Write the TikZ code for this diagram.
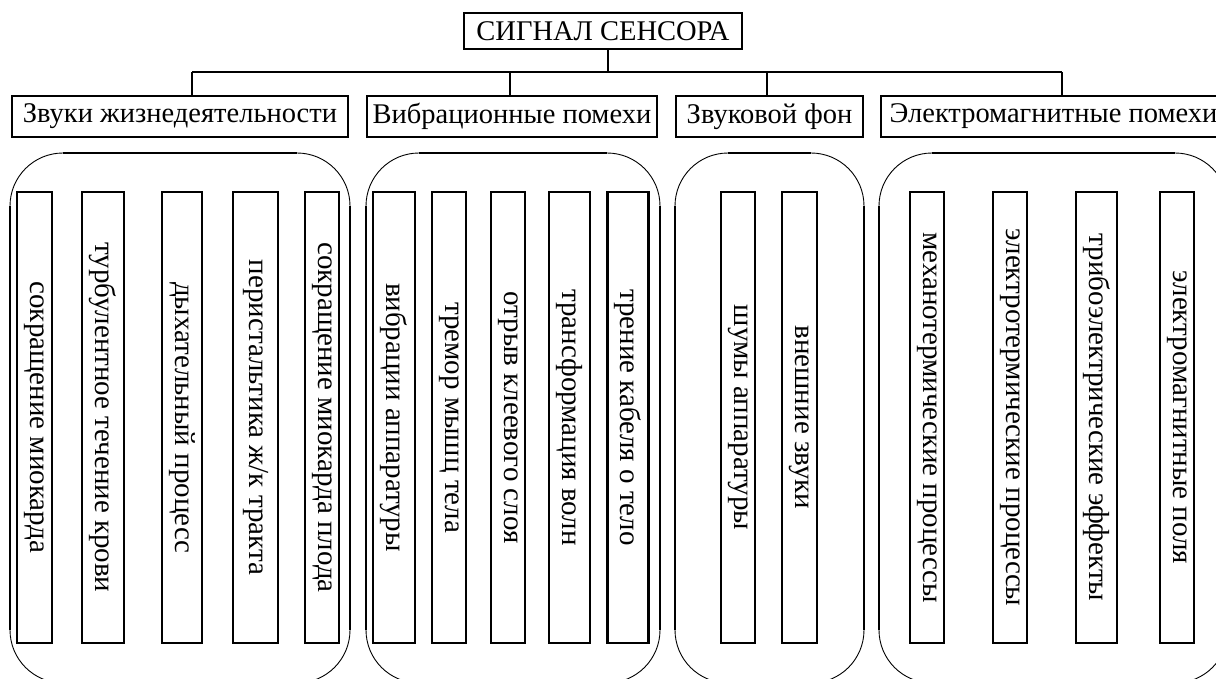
\documentclass[tikz,border=0pt]{standalone}
\usepackage{fontspec}
\setmainfont{Liberation Serif}
\newcommand\txtsize{\fontsize{28.5}{30}\selectfont}
\newcommand\vtxtsize{\fontsize{29}{31}\selectfont}
\begin{document}
\begin{tikzpicture}[x=1pt,y=-1pt,
  box/.style={draw, line width=2.4pt, inner sep=0pt, font=\txtsize},
  vbox/.style={draw, line width=2.3pt, inner sep=0pt, rotate=-90,
    minimum width=451, font=\vtxtsize},
  conn/.style={line width=2pt},
  ovalarc/.style={line width=0.9pt, rounded corners=53},
  ovalside/.style={line width=2pt}]
\useasboundingbox (0,0) rectangle (1216,679);
\clip (0,0) rectangle (1216,679);
% title
\node[box, minimum width=278, minimum height=36] (t) at (603,31) {СИГНАЛ СЕНСОРА};
% headers
\node[box, minimum width=336, minimum height=41] (h1) at (180,116.5) {Звуки жизнедеятельности};
\node[box, minimum width=290, minimum height=41] (h2) at (512,116.5) {Вибрационные помехи};
\node[box, minimum width=187, minimum height=41] (h3) at (769.5,116.5) {Звуковой фон};
\node[box, minimum width=345, minimum height=41] (h4) at (1053.5,116.5) {Электромагнитные помехи};
% bus
\coordinate (d1) at (192,72);
\coordinate (d2) at (510,72);
\coordinate (d3) at (767,72);
\coordinate (d4) at (1062,72);
\coordinate (dt) at (608,72);
\draw[conn] (dt |- t.south) -- (dt);
\draw[conn] (d1) -- (d4);
\draw[conn] (d1) -- (d1 |- h1.north);
\draw[conn] (d2) -- (d2 |- h2.north);
\draw[conn] (d3) -- (d3 |- h3.north);
\draw[conn] (d4) -- (d4 |- h4.north);
% ovals
\foreach \a/\b in {10/350, 366/660, 675/864, 879/1228}{
  \draw[ovalarc] (\a,153) rectangle (\b,683);
  \draw[ovalside] (\a+53,153) -- (\b-53,153);
  \draw[ovalside] (\a+53,683) -- (\b-53,683);
  \draw[ovalside] (\a,206) -- (\a,630);
  \draw[ovalside] (\b,206) -- (\b,630);
}
% group 1
\node[vbox, minimum height=35] (a1) at (34.5,417.5) {сокращение миокарда};
\node[vbox, minimum height=42] (a2) at (103,417.5) {турбулентное течение крови};
\node[vbox, minimum height=40] (a3) at (182,417.5) {дыхательный процесс};
\node[vbox, minimum height=45] (a4) at (255.5,417.5) {перистальтика ж/к тракта};
\node[vbox, minimum height=34] (a5) at (322,417.5) {сокращение миокарда плода};
% group 2
\node[vbox, minimum height=42] (b1) at (394,417.5) {вибрации аппаратуры};
\node[vbox, minimum height=34] (b2) at (449,417.5) {тремор мышц тела};
\node[vbox, minimum height=34] (b3) at (508,417.5) {отрыв клеевого слоя};
\node[vbox, minimum height=41] (b4) at (569.5,417.5) {трансформация волн};
\node[vbox, minimum height=41] (b5) at (628,417.5) {трение кабеля о тело};
% group 3
\node[vbox, minimum height=34] (c1) at (738,417.5) {шумы аппаратуры};
\node[vbox, minimum height=35] (c2) at (799.5,417.5) {внешние звуки};
% group 4
\node[vbox, minimum height=34] (e1) at (927,417.5) {механотермические процессы};
\node[vbox, minimum height=34] (e2) at (1010,417.5) {электротермические процессы};
\node[vbox, minimum height=41] (e3) at (1096.5,417.5) {трибоэлектрические эффекты};
\node[vbox, minimum height=34] (e4) at (1177,417.5) {электромагнитные поля};
\end{tikzpicture}
\end{document}
